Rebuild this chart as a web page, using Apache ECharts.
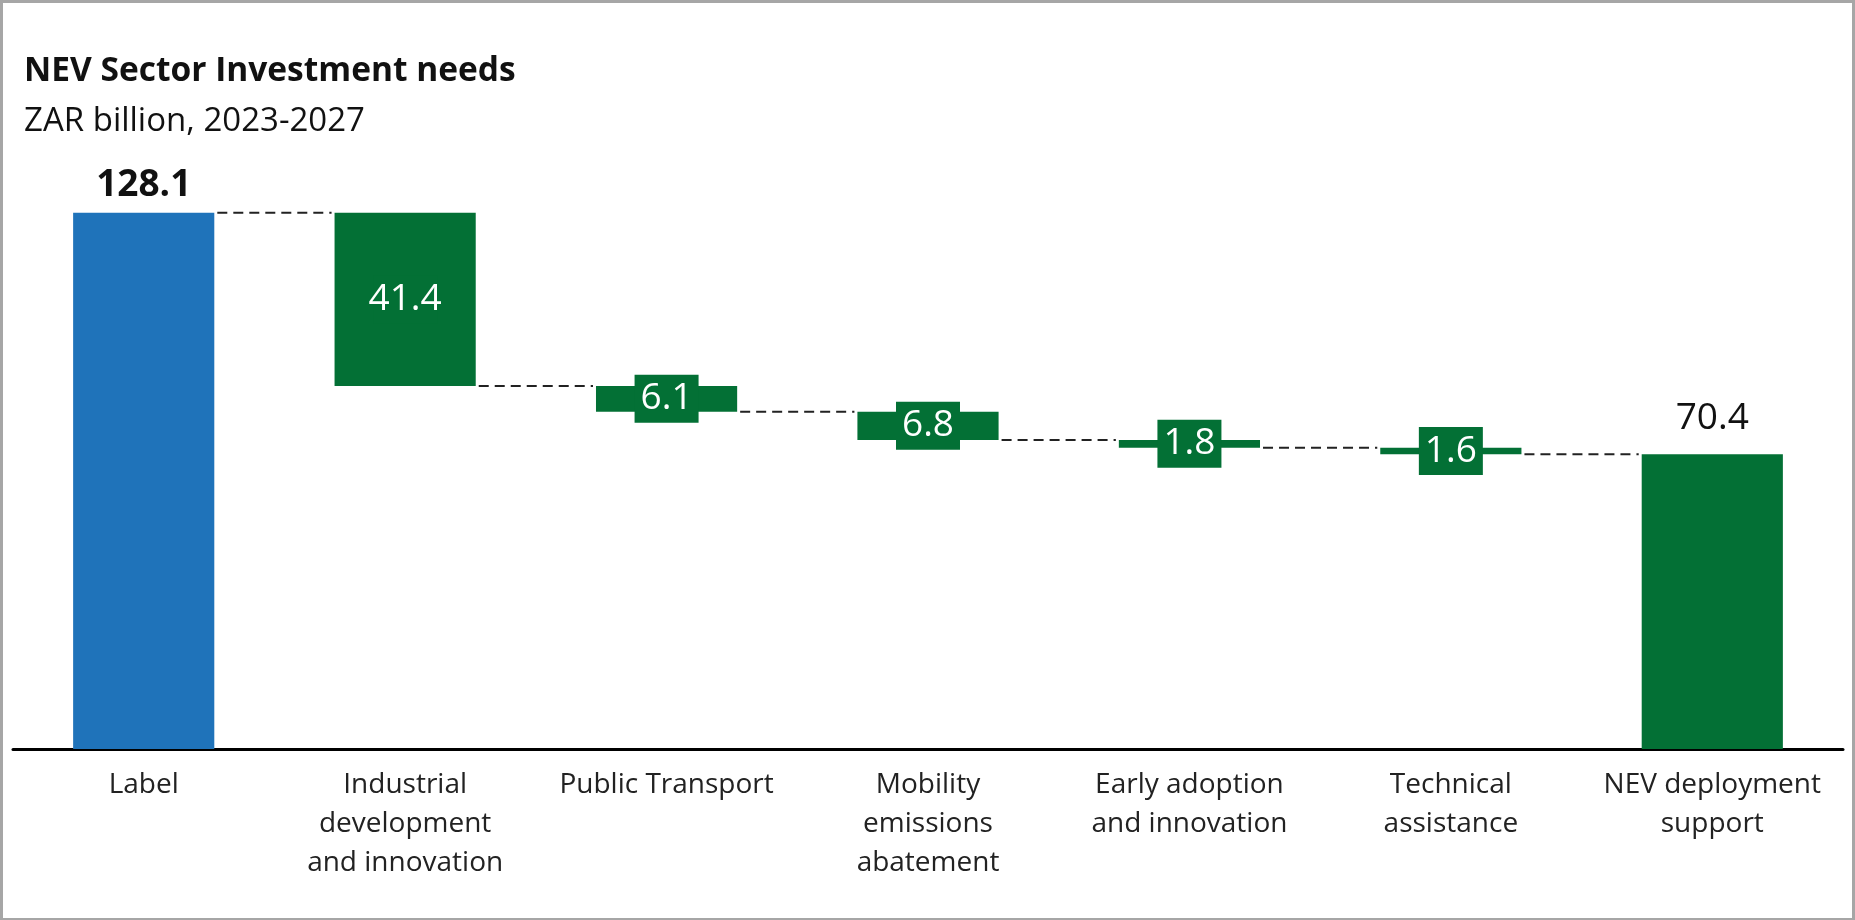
<!DOCTYPE html>
<html><head><meta charset="utf-8">
<script src="https://cdn.jsdelivr.net/npm/echarts@6/dist/echarts.min.js"></script>
<style>
html,body{margin:0;padding:0;background:#fff;}
#wrap{position:absolute;left:0;top:0;width:1855px;height:920px;box-sizing:border-box;border:3px solid #a6a6a6;border-bottom-width:2px;}
#c{position:absolute;left:0;top:0;width:1855px;height:920px;}
</style></head>
<body>
<div id="c"></div><div id="wrap"></div>
<script>
const categories = ['Label', 'Industrial\ndevelopment\nand innovation', 'Public Transport', 'Mobility\nemissions\nabatement', 'Early adoption\nand innovation', 'Technical\nassistance', 'NEV deployment\nsupport'];
const startValue = 128.1;
const decreases = [41.4, 6.1, 6.8, 1.8, 1.6];
const endValue = 70.4;

const BLUE = '#1f73ba', GREEN = '#037035';
const FONT = 'Open Sans';

// build waterfall
const base = [0], visible = [startValue];
let level = startValue;
const levels = [startValue];
decreases.forEach(d => { level = +(level - d).toFixed(1); base.push(level); visible.push(d); levels.push(level); });
base.push(0); visible.push(endValue);

const visData = visible.map((v, i) => {
  const isStart = i === 0, isEnd = i === visible.length - 1;
  const item = { value: v, itemStyle: { color: isStart ? BLUE : GREEN } };
  if (isStart) item.label = { show: true, position: 'top', distance: 10, color: '#111', fontWeight: 'bold', fontSize: 37, fontFamily: FONT, backgroundColor: 'transparent', padding: 0, width: null, height: null };
  else if (isEnd) item.label = { show: true, position: 'top', distance: 19, color: '#111', fontSize: 37, fontFamily: FONT, backgroundColor: 'transparent', padding: 0, width: null, height: null };
  return item;
});

// connectors: [index, level]
const connectors = levels.map((lv, i) => [i, lv]);

const chart = echarts.init(document.getElementById('c'), null, { renderer: 'canvas' });
chart.setOption({
  animation: false,
  title: [
    { text: 'NEV Sector Investment needs', left: 19, top: 49, textStyle: { fontFamily: FONT, fontWeight: 'bold', fontSize: 33.5, color: '#111' } },
    { text: 'ZAR billion, 2023-2027', left: 19, top: 100, textStyle: { fontFamily: FONT, fontWeight: 'normal', fontSize: 33, color: '#111' } }
  ],
  grid: { left: 13, right: 12, top: 163, bottom: 171, containLabel: false },
  xAxis: {
    type: 'category', data: categories,
    axisLine: { lineStyle: { color: '#000', width: 3 } },
    axisTick: { show: false },
    axisLabel: { interval: 0, margin: 17, fontFamily: FONT, fontSize: 28, lineHeight: 39, color: '#222' }
  },
  yAxis: { type: 'value', min: 0, max: 140, show: false, splitLine: { show: false } },
  series: [
    { type: 'bar', stack: 'w', data: base, barWidth: '54%', itemStyle: { color: 'transparent' }, silent: true },
    { type: 'bar', stack: 'w', data: visData, barWidth: '54%',
      label: { show: true, position: 'inside', color: '#fff', fontFamily: FONT, fontSize: 37,
        backgroundColor: GREEN, width: 50, height: 34, lineHeight: 34, align: 'center', padding: [7, 7],
        formatter: p => p.value.toFixed(1) } },
    { type: 'custom', data: connectors, z: 1,
      renderItem: function (params, api) {
        const i = api.value(0), lv = api.value(1);
        const p0 = api.coord([i, lv]);
        const band = api.size([1, 0])[0];
        const half = band * 0.54 / 2;
        return { type: 'line', shape: { x1: p0[0] + half + 3, y1: p0[1], x2: p0[0] + band - half - 3, y2: p0[1] },
          style: { stroke: '#222', lineWidth: 2, lineDash: [10, 6] } };
      } }
  ]
});
</script>
</body></html>
